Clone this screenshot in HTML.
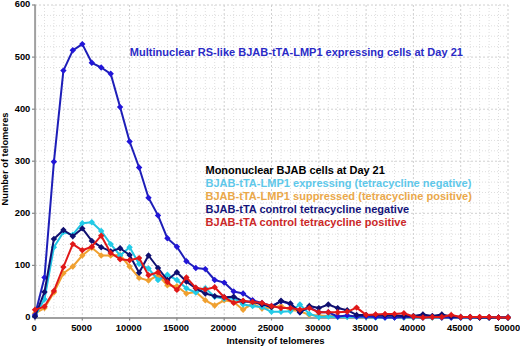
<!DOCTYPE html>
<html><head><meta charset="utf-8"><style>
html,body{margin:0;padding:0;background:#fff;}
body{width:520px;height:347px;overflow:hidden;font-family:"Liberation Sans",sans-serif;}
svg{display:block;}
</style></head><body>
<svg width="520" height="347" viewBox="0 0 520 347">
<rect width="520" height="347" fill="#fff"/>
<g stroke="#dedede" stroke-width="1" stroke-dasharray="1 2" fill="none"><line x1="35.0" y1="307.1" x2="508.0" y2="307.1"/><line x1="35.0" y1="296.7" x2="508.0" y2="296.7"/><line x1="35.0" y1="286.2" x2="508.0" y2="286.2"/><line x1="35.0" y1="275.8" x2="508.0" y2="275.8"/><line x1="35.0" y1="255.0" x2="508.0" y2="255.0"/><line x1="35.0" y1="244.6" x2="508.0" y2="244.6"/><line x1="35.0" y1="234.2" x2="508.0" y2="234.2"/><line x1="35.0" y1="223.8" x2="508.0" y2="223.8"/><line x1="35.0" y1="202.9" x2="508.0" y2="202.9"/><line x1="35.0" y1="192.5" x2="508.0" y2="192.5"/><line x1="35.0" y1="182.1" x2="508.0" y2="182.1"/><line x1="35.0" y1="171.7" x2="508.0" y2="171.7"/><line x1="35.0" y1="150.8" x2="508.0" y2="150.8"/><line x1="35.0" y1="140.4" x2="508.0" y2="140.4"/><line x1="35.0" y1="130.0" x2="508.0" y2="130.0"/><line x1="35.0" y1="119.6" x2="508.0" y2="119.6"/><line x1="35.0" y1="98.8" x2="508.0" y2="98.8"/><line x1="35.0" y1="88.3" x2="508.0" y2="88.3"/><line x1="35.0" y1="77.9" x2="508.0" y2="77.9"/><line x1="35.0" y1="67.5" x2="508.0" y2="67.5"/><line x1="35.0" y1="46.7" x2="508.0" y2="46.7"/><line x1="35.0" y1="36.2" x2="508.0" y2="36.2"/><line x1="35.0" y1="25.8" x2="508.0" y2="25.8"/><line x1="35.0" y1="15.4" x2="508.0" y2="15.4"/><line x1="44.5" y1="5.0" x2="44.5" y2="317.5"/><line x1="53.9" y1="5.0" x2="53.9" y2="317.5"/><line x1="63.4" y1="5.0" x2="63.4" y2="317.5"/><line x1="72.8" y1="5.0" x2="72.8" y2="317.5"/><line x1="91.8" y1="5.0" x2="91.8" y2="317.5"/><line x1="101.2" y1="5.0" x2="101.2" y2="317.5"/><line x1="110.7" y1="5.0" x2="110.7" y2="317.5"/><line x1="120.1" y1="5.0" x2="120.1" y2="317.5"/><line x1="139.1" y1="5.0" x2="139.1" y2="317.5"/><line x1="148.5" y1="5.0" x2="148.5" y2="317.5"/><line x1="158.0" y1="5.0" x2="158.0" y2="317.5"/><line x1="167.4" y1="5.0" x2="167.4" y2="317.5"/><line x1="186.4" y1="5.0" x2="186.4" y2="317.5"/><line x1="195.8" y1="5.0" x2="195.8" y2="317.5"/><line x1="205.3" y1="5.0" x2="205.3" y2="317.5"/><line x1="214.7" y1="5.0" x2="214.7" y2="317.5"/><line x1="233.7" y1="5.0" x2="233.7" y2="317.5"/><line x1="243.1" y1="5.0" x2="243.1" y2="317.5"/><line x1="252.6" y1="5.0" x2="252.6" y2="317.5"/><line x1="262.0" y1="5.0" x2="262.0" y2="317.5"/><line x1="281.0" y1="5.0" x2="281.0" y2="317.5"/><line x1="290.4" y1="5.0" x2="290.4" y2="317.5"/><line x1="299.9" y1="5.0" x2="299.9" y2="317.5"/><line x1="309.3" y1="5.0" x2="309.3" y2="317.5"/><line x1="328.3" y1="5.0" x2="328.3" y2="317.5"/><line x1="337.7" y1="5.0" x2="337.7" y2="317.5"/><line x1="347.2" y1="5.0" x2="347.2" y2="317.5"/><line x1="356.6" y1="5.0" x2="356.6" y2="317.5"/><line x1="375.6" y1="5.0" x2="375.6" y2="317.5"/><line x1="385.0" y1="5.0" x2="385.0" y2="317.5"/><line x1="394.5" y1="5.0" x2="394.5" y2="317.5"/><line x1="403.9" y1="5.0" x2="403.9" y2="317.5"/><line x1="422.9" y1="5.0" x2="422.9" y2="317.5"/><line x1="432.3" y1="5.0" x2="432.3" y2="317.5"/><line x1="441.8" y1="5.0" x2="441.8" y2="317.5"/><line x1="451.2" y1="5.0" x2="451.2" y2="317.5"/><line x1="470.2" y1="5.0" x2="470.2" y2="317.5"/><line x1="479.6" y1="5.0" x2="479.6" y2="317.5"/><line x1="489.1" y1="5.0" x2="489.1" y2="317.5"/><line x1="498.5" y1="5.0" x2="498.5" y2="317.5"/></g>
<g stroke="#d0d0d0" stroke-width="1" stroke-dasharray="2 2" fill="none"><line x1="35.0" y1="265.4" x2="508.0" y2="265.4"/><line x1="35.0" y1="213.3" x2="508.0" y2="213.3"/><line x1="35.0" y1="161.2" x2="508.0" y2="161.2"/><line x1="35.0" y1="109.2" x2="508.0" y2="109.2"/><line x1="35.0" y1="57.1" x2="508.0" y2="57.1"/><line x1="35.0" y1="5.0" x2="508.0" y2="5.0"/><line x1="82.3" y1="5.0" x2="82.3" y2="317.5"/><line x1="129.6" y1="5.0" x2="129.6" y2="317.5"/><line x1="176.9" y1="5.0" x2="176.9" y2="317.5"/><line x1="224.2" y1="5.0" x2="224.2" y2="317.5"/><line x1="271.5" y1="5.0" x2="271.5" y2="317.5"/><line x1="318.8" y1="5.0" x2="318.8" y2="317.5"/><line x1="366.1" y1="5.0" x2="366.1" y2="317.5"/><line x1="413.4" y1="5.0" x2="413.4" y2="317.5"/><line x1="460.7" y1="5.0" x2="460.7" y2="317.5"/><line x1="508.0" y1="5.0" x2="508.0" y2="317.5"/></g>
<line x1="35.1" y1="4.5" x2="35.1" y2="318.7" stroke="#a0a0a0" stroke-width="2"/>
<line x1="34.0" y1="318.0" x2="508.0" y2="318.0" stroke="#a0a0a0" stroke-width="1.8"/>
<g stroke="#888" stroke-width="1.2"><line x1="32.0" y1="317.5" x2="35.0" y2="317.5"/><line x1="32.0" y1="265.4" x2="35.0" y2="265.4"/><line x1="32.0" y1="213.3" x2="35.0" y2="213.3"/><line x1="32.0" y1="161.2" x2="35.0" y2="161.2"/><line x1="32.0" y1="109.2" x2="35.0" y2="109.2"/><line x1="32.0" y1="57.1" x2="35.0" y2="57.1"/><line x1="32.0" y1="5.0" x2="35.0" y2="5.0"/><line x1="35.0" y1="317.5" x2="35.0" y2="320.5"/><line x1="82.3" y1="317.5" x2="82.3" y2="320.5"/><line x1="129.6" y1="317.5" x2="129.6" y2="320.5"/><line x1="176.9" y1="317.5" x2="176.9" y2="320.5"/><line x1="224.2" y1="317.5" x2="224.2" y2="320.5"/><line x1="271.5" y1="317.5" x2="271.5" y2="320.5"/><line x1="318.8" y1="317.5" x2="318.8" y2="320.5"/><line x1="366.1" y1="317.5" x2="366.1" y2="320.5"/><line x1="413.4" y1="317.5" x2="413.4" y2="320.5"/><line x1="460.7" y1="317.5" x2="460.7" y2="320.5"/><line x1="508.0" y1="317.5" x2="508.0" y2="320.5"/></g>
<polyline fill="none" stroke="#F0A030" stroke-width="2.0" stroke-linejoin="round" points="35.0,313.3 44.5,308.1 53.9,292.5 63.4,273.2 72.8,266.5 82.3,255.5 91.8,247.7 101.2,255.5 110.7,255.5 120.1,255.0 129.6,266.5 139.1,277.9 148.5,280.5 158.0,275.3 167.4,285.2 176.9,286.2 186.4,293.5 195.8,292.0 205.3,300.3 214.7,305.5 224.2,300.3 233.7,301.9 243.1,309.7 252.6,303.4 262.0,308.6 271.5,307.6 281.0,306.0 290.4,309.7 299.9,311.2 309.3,314.9 318.8,315.4 328.3,315.9 337.7,315.9 347.2,316.5 356.6,316.5 366.1,317.0 375.6,317.0 385.0,317.0 394.5,317.5 403.9,317.5 413.4,317.5 422.9,317.5 432.3,317.5 441.8,317.5 451.2,317.5 460.7,317.5 470.2,317.5 479.6,317.5 489.1,317.5 498.5,317.5 508.0,317.5"/>
<path fill="#F0A030" d="M31.8 313.3L35.0 310.1L38.2 313.3L35.0 316.5ZM41.3 308.1L44.5 304.9L47.7 308.1L44.5 311.3ZM50.7 292.5L53.9 289.3L57.1 292.5L53.9 295.7ZM60.2 273.2L63.4 270.0L66.6 273.2L63.4 276.4ZM69.6 266.5L72.8 263.3L76.0 266.5L72.8 269.7ZM79.1 255.5L82.3 252.3L85.5 255.5L82.3 258.7ZM88.6 247.7L91.8 244.5L95.0 247.7L91.8 250.9ZM98.0 255.5L101.2 252.3L104.4 255.5L101.2 258.7ZM107.5 255.5L110.7 252.3L113.9 255.5L110.7 258.7ZM116.9 255.0L120.1 251.8L123.3 255.0L120.1 258.2ZM126.4 266.5L129.6 263.3L132.8 266.5L129.6 269.7ZM135.9 277.9L139.1 274.7L142.3 277.9L139.1 281.1ZM145.3 280.5L148.5 277.3L151.7 280.5L148.5 283.7ZM154.8 275.3L158.0 272.1L161.2 275.3L158.0 278.5ZM164.2 285.2L167.4 282.0L170.6 285.2L167.4 288.4ZM173.7 286.2L176.9 283.1L180.1 286.2L176.9 289.4ZM183.2 293.5L186.4 290.3L189.6 293.5L186.4 296.7ZM192.6 292.0L195.8 288.8L199.0 292.0L195.8 295.2ZM202.1 300.3L205.3 297.1L208.5 300.3L205.3 303.5ZM211.5 305.5L214.7 302.3L217.9 305.5L214.7 308.7ZM221.0 300.3L224.2 297.1L227.4 300.3L224.2 303.5ZM230.5 301.9L233.7 298.7L236.9 301.9L233.7 305.1ZM239.9 309.7L243.1 306.5L246.3 309.7L243.1 312.9ZM249.4 303.4L252.6 300.2L255.8 303.4L252.6 306.6ZM258.8 308.6L262.0 305.4L265.2 308.6L262.0 311.8ZM268.3 307.6L271.5 304.4L274.7 307.6L271.5 310.8ZM277.8 306.0L281.0 302.8L284.2 306.0L281.0 309.2ZM287.2 309.7L290.4 306.5L293.6 309.7L290.4 312.9ZM296.7 311.2L299.9 308.1L303.1 311.2L299.9 314.4ZM306.1 314.9L309.3 311.7L312.5 314.9L309.3 318.1ZM315.6 315.4L318.8 312.2L322.0 315.4L318.8 318.6ZM325.1 315.9L328.3 312.7L331.5 315.9L328.3 319.1ZM334.5 315.9L337.7 312.7L340.9 315.9L337.7 319.1ZM344.0 316.5L347.2 313.3L350.4 316.5L347.2 319.7ZM353.4 316.5L356.6 313.3L359.8 316.5L356.6 319.7ZM362.9 317.0L366.1 313.8L369.3 317.0L366.1 320.2ZM372.4 317.0L375.6 313.8L378.8 317.0L375.6 320.2ZM381.8 317.0L385.0 313.8L388.2 317.0L385.0 320.2ZM391.3 317.5L394.5 314.3L397.7 317.5L394.5 320.7ZM400.7 317.5L403.9 314.3L407.1 317.5L403.9 320.7ZM410.2 317.5L413.4 314.3L416.6 317.5L413.4 320.7ZM419.7 317.5L422.9 314.3L426.1 317.5L422.9 320.7ZM429.1 317.5L432.3 314.3L435.5 317.5L432.3 320.7ZM438.6 317.5L441.8 314.3L445.0 317.5L441.8 320.7ZM448.0 317.5L451.2 314.3L454.4 317.5L451.2 320.7ZM457.5 317.5L460.7 314.3L463.9 317.5L460.7 320.7ZM467.0 317.5L470.2 314.3L473.4 317.5L470.2 320.7ZM476.4 317.5L479.6 314.3L482.8 317.5L479.6 320.7ZM485.9 317.5L489.1 314.3L492.3 317.5L489.1 320.7ZM495.3 317.5L498.5 314.3L501.7 317.5L498.5 320.7ZM504.8 317.5L508.0 314.3L511.2 317.5L508.0 320.7Z"/>
<polyline fill="none" stroke="#22C4E2" stroke-width="2.0" stroke-linejoin="round" points="35.0,315.9 44.5,299.3 53.9,247.2 63.4,232.1 72.8,234.7 82.3,223.2 91.8,222.2 101.2,231.0 110.7,244.1 120.1,255.5 129.6,247.2 139.1,263.9 148.5,268.5 158.0,280.0 167.4,274.8 176.9,280.0 186.4,288.3 195.8,292.5 205.3,288.3 214.7,296.7 224.2,298.8 233.7,298.2 243.1,304.5 252.6,306.0 262.0,307.1 271.5,311.8 281.0,311.8 290.4,311.2 299.9,304.5 309.3,313.9 318.8,317.0 328.3,316.5 337.7,317.0 347.2,317.0 356.6,317.0 366.1,317.0 375.6,317.5 385.0,317.5 394.5,317.5 403.9,317.5 413.4,317.5 422.9,317.5 432.3,317.5 441.8,317.5 451.2,317.5 460.7,317.5 470.2,317.5 479.6,317.5 489.1,317.5 498.5,317.5 508.0,317.5"/>
<path fill="#22CCE8" d="M31.8 315.9L35.0 312.7L38.2 315.9L35.0 319.1ZM41.3 299.3L44.5 296.1L47.7 299.3L44.5 302.5ZM50.7 247.2L53.9 244.0L57.1 247.2L53.9 250.4ZM60.2 232.1L63.4 228.9L66.6 232.1L63.4 235.3ZM69.6 234.7L72.8 231.5L76.0 234.7L72.8 237.9ZM79.1 223.2L82.3 220.0L85.5 223.2L82.3 226.4ZM88.6 222.2L91.8 219.0L95.0 222.2L91.8 225.4ZM98.0 231.0L101.2 227.8L104.4 231.0L101.2 234.2ZM107.5 244.1L110.7 240.9L113.9 244.1L110.7 247.3ZM116.9 255.5L120.1 252.3L123.3 255.5L120.1 258.7ZM126.4 247.2L129.6 244.0L132.8 247.2L129.6 250.4ZM135.9 263.9L139.1 260.7L142.3 263.9L139.1 267.1ZM145.3 268.5L148.5 265.3L151.7 268.5L148.5 271.7ZM154.8 280.0L158.0 276.8L161.2 280.0L158.0 283.2ZM164.2 274.8L167.4 271.6L170.6 274.8L167.4 278.0ZM173.7 280.0L176.9 276.8L180.1 280.0L176.9 283.2ZM183.2 288.3L186.4 285.1L189.6 288.3L186.4 291.5ZM192.6 292.5L195.8 289.3L199.0 292.5L195.8 295.7ZM202.1 288.3L205.3 285.1L208.5 288.3L205.3 291.5ZM211.5 296.7L214.7 293.5L217.9 296.7L214.7 299.9ZM221.0 298.8L224.2 295.6L227.4 298.8L224.2 301.9ZM230.5 298.2L233.7 295.0L236.9 298.2L233.7 301.4ZM239.9 304.5L243.1 301.3L246.3 304.5L243.1 307.7ZM249.4 306.0L252.6 302.8L255.8 306.0L252.6 309.2ZM258.8 307.1L262.0 303.9L265.2 307.1L262.0 310.3ZM268.3 311.8L271.5 308.6L274.7 311.8L271.5 315.0ZM277.8 311.8L281.0 308.6L284.2 311.8L281.0 315.0ZM287.2 311.2L290.4 308.1L293.6 311.2L290.4 314.4ZM296.7 304.5L299.9 301.3L303.1 304.5L299.9 307.7ZM306.1 313.9L309.3 310.7L312.5 313.9L309.3 317.1ZM315.6 317.0L318.8 313.8L322.0 317.0L318.8 320.2ZM325.1 316.5L328.3 313.3L331.5 316.5L328.3 319.7ZM334.5 317.0L337.7 313.8L340.9 317.0L337.7 320.2ZM344.0 317.0L347.2 313.8L350.4 317.0L347.2 320.2ZM353.4 317.0L356.6 313.8L359.8 317.0L356.6 320.2ZM362.9 317.0L366.1 313.8L369.3 317.0L366.1 320.2ZM372.4 317.5L375.6 314.3L378.8 317.5L375.6 320.7ZM381.8 317.5L385.0 314.3L388.2 317.5L385.0 320.7ZM391.3 317.5L394.5 314.3L397.7 317.5L394.5 320.7ZM400.7 317.5L403.9 314.3L407.1 317.5L403.9 320.7ZM410.2 317.5L413.4 314.3L416.6 317.5L413.4 320.7ZM419.7 317.5L422.9 314.3L426.1 317.5L422.9 320.7ZM429.1 317.5L432.3 314.3L435.5 317.5L432.3 320.7ZM438.6 317.5L441.8 314.3L445.0 317.5L441.8 320.7ZM448.0 317.5L451.2 314.3L454.4 317.5L451.2 320.7ZM457.5 317.5L460.7 314.3L463.9 317.5L460.7 320.7ZM467.0 317.5L470.2 314.3L473.4 317.5L470.2 320.7ZM476.4 317.5L479.6 314.3L482.8 317.5L479.6 320.7ZM485.9 317.5L489.1 314.3L492.3 317.5L489.1 320.7ZM495.3 317.5L498.5 314.3L501.7 317.5L498.5 320.7ZM504.8 317.5L508.0 314.3L511.2 317.5L508.0 320.7Z"/>
<polyline fill="none" stroke="#1e1eb8" stroke-width="2.0" stroke-linejoin="round" points="35.0,314.9 44.5,277.4 53.9,161.8 63.4,70.6 72.8,50.3 82.3,44.1 91.8,62.8 101.2,67.5 110.7,73.8 120.1,107.1 129.6,141.5 139.1,167.5 148.5,197.7 158.0,215.4 167.4,238.3 176.9,246.7 186.4,261.2 195.8,268.0 205.3,269.1 214.7,280.0 224.2,282.6 233.7,291.5 243.1,293.5 252.6,300.3 262.0,302.9 271.5,306.0 281.0,301.4 290.4,304.0 299.9,312.3 309.3,307.1 318.8,312.3 328.3,312.3 337.7,316.5 347.2,315.4 356.6,316.5 366.1,316.5 375.6,317.0 385.0,317.5 394.5,317.5 403.9,317.0 413.4,317.0 422.9,317.5 432.3,317.0 441.8,317.5 451.2,317.5 460.7,317.5 470.2,317.5 479.6,317.5 489.1,317.5 498.5,317.5 508.0,317.5"/>
<path fill="#2216d8" d="M31.8 314.9L35.0 311.7L38.2 314.9L35.0 318.1ZM41.3 277.4L44.5 274.2L47.7 277.4L44.5 280.6ZM50.7 161.8L53.9 158.6L57.1 161.8L53.9 165.0ZM60.2 70.6L63.4 67.4L66.6 70.6L63.4 73.8ZM69.6 50.3L72.8 47.1L76.0 50.3L72.8 53.5ZM79.1 44.1L82.3 40.9L85.5 44.1L82.3 47.3ZM88.6 62.8L91.8 59.6L95.0 62.8L91.8 66.0ZM98.0 67.5L101.2 64.3L104.4 67.5L101.2 70.7ZM107.5 73.8L110.7 70.5L113.9 73.8L110.7 77.0ZM116.9 107.1L120.1 103.9L123.3 107.1L120.1 110.3ZM126.4 141.5L129.6 138.3L132.8 141.5L129.6 144.7ZM135.9 167.5L139.1 164.3L142.3 167.5L139.1 170.7ZM145.3 197.7L148.5 194.5L151.7 197.7L148.5 200.9ZM154.8 215.4L158.0 212.2L161.2 215.4L158.0 218.6ZM164.2 238.3L167.4 235.1L170.6 238.3L167.4 241.5ZM173.7 246.7L176.9 243.5L180.1 246.7L176.9 249.9ZM183.2 261.2L186.4 258.1L189.6 261.2L186.4 264.4ZM192.6 268.0L195.8 264.8L199.0 268.0L195.8 271.2ZM202.1 269.1L205.3 265.9L208.5 269.1L205.3 272.3ZM211.5 280.0L214.7 276.8L217.9 280.0L214.7 283.2ZM221.0 282.6L224.2 279.4L227.4 282.6L224.2 285.8ZM230.5 291.5L233.7 288.3L236.9 291.5L233.7 294.7ZM239.9 293.5L243.1 290.3L246.3 293.5L243.1 296.7ZM249.4 300.3L252.6 297.1L255.8 300.3L252.6 303.5ZM258.8 302.9L262.0 299.7L265.2 302.9L262.0 306.1ZM268.3 306.0L271.5 302.8L274.7 306.0L271.5 309.2ZM277.8 301.4L281.0 298.2L284.2 301.4L281.0 304.6ZM287.2 304.0L290.4 300.8L293.6 304.0L290.4 307.2ZM296.7 312.3L299.9 309.1L303.1 312.3L299.9 315.5ZM306.1 307.1L309.3 303.9L312.5 307.1L309.3 310.3ZM315.6 312.3L318.8 309.1L322.0 312.3L318.8 315.5ZM325.1 312.3L328.3 309.1L331.5 312.3L328.3 315.5ZM334.5 316.5L337.7 313.3L340.9 316.5L337.7 319.7ZM344.0 315.4L347.2 312.2L350.4 315.4L347.2 318.6ZM353.4 316.5L356.6 313.3L359.8 316.5L356.6 319.7ZM362.9 316.5L366.1 313.3L369.3 316.5L366.1 319.7ZM372.4 317.0L375.6 313.8L378.8 317.0L375.6 320.2ZM381.8 317.5L385.0 314.3L388.2 317.5L385.0 320.7ZM391.3 317.5L394.5 314.3L397.7 317.5L394.5 320.7ZM400.7 317.0L403.9 313.8L407.1 317.0L403.9 320.2ZM410.2 317.0L413.4 313.8L416.6 317.0L413.4 320.2ZM419.7 317.5L422.9 314.3L426.1 317.5L422.9 320.7ZM429.1 317.0L432.3 313.8L435.5 317.0L432.3 320.2ZM438.6 317.5L441.8 314.3L445.0 317.5L441.8 320.7ZM448.0 317.5L451.2 314.3L454.4 317.5L451.2 320.7ZM457.5 317.5L460.7 314.3L463.9 317.5L460.7 320.7ZM467.0 317.5L470.2 314.3L473.4 317.5L470.2 320.7ZM476.4 317.5L479.6 314.3L482.8 317.5L479.6 320.7ZM485.9 317.5L489.1 314.3L492.3 317.5L489.1 320.7ZM495.3 317.5L498.5 314.3L501.7 317.5L498.5 320.7ZM504.8 317.5L508.0 314.3L511.2 317.5L508.0 320.7Z"/>
<polyline fill="none" stroke="#101070" stroke-width="2.0" stroke-linejoin="round" points="35.0,316.5 44.5,292.0 53.9,238.9 63.4,230.0 72.8,236.2 82.3,228.4 91.8,240.9 101.2,247.2 110.7,251.4 120.1,248.2 129.6,255.0 139.1,272.7 148.5,255.5 158.0,268.0 167.4,280.0 176.9,272.2 186.4,281.6 195.8,288.3 205.3,293.5 214.7,296.1 224.2,297.2 233.7,296.7 243.1,301.4 252.6,301.9 262.0,304.5 271.5,307.1 281.0,300.8 290.4,303.4 299.9,312.3 309.3,306.0 318.8,308.1 328.3,304.5 337.7,308.1 347.2,310.2 356.6,314.9 366.1,314.9 375.6,314.9 385.0,315.4 394.5,315.4 403.9,315.9 413.4,315.9 422.9,314.4 432.3,315.9 441.8,314.4 451.2,316.5 460.7,317.0 470.2,317.0 479.6,317.5 489.1,317.5 498.5,317.5 508.0,317.5"/>
<path fill="#101070" d="M31.8 316.5L35.0 313.3L38.2 316.5L35.0 319.7ZM41.3 292.0L44.5 288.8L47.7 292.0L44.5 295.2ZM50.7 238.9L53.9 235.7L57.1 238.9L53.9 242.1ZM60.2 230.0L63.4 226.8L66.6 230.0L63.4 233.2ZM69.6 236.2L72.8 233.1L76.0 236.2L72.8 239.4ZM79.1 228.4L82.3 225.2L85.5 228.4L82.3 231.6ZM88.6 240.9L91.8 237.7L95.0 240.9L91.8 244.1ZM98.0 247.2L101.2 244.0L104.4 247.2L101.2 250.4ZM107.5 251.4L110.7 248.2L113.9 251.4L110.7 254.6ZM116.9 248.2L120.1 245.0L123.3 248.2L120.1 251.4ZM126.4 255.0L129.6 251.8L132.8 255.0L129.6 258.2ZM135.9 272.7L139.1 269.5L142.3 272.7L139.1 275.9ZM145.3 255.5L148.5 252.3L151.7 255.5L148.5 258.7ZM154.8 268.0L158.0 264.8L161.2 268.0L158.0 271.2ZM164.2 280.0L167.4 276.8L170.6 280.0L167.4 283.2ZM173.7 272.2L176.9 269.0L180.1 272.2L176.9 275.4ZM183.2 281.6L186.4 278.4L189.6 281.6L186.4 284.8ZM192.6 288.3L195.8 285.1L199.0 288.3L195.8 291.5ZM202.1 293.5L205.3 290.3L208.5 293.5L205.3 296.7ZM211.5 296.1L214.7 292.9L217.9 296.1L214.7 299.3ZM221.0 297.2L224.2 294.0L227.4 297.2L224.2 300.4ZM230.5 296.7L233.7 293.5L236.9 296.7L233.7 299.9ZM239.9 301.4L243.1 298.2L246.3 301.4L243.1 304.6ZM249.4 301.9L252.6 298.7L255.8 301.9L252.6 305.1ZM258.8 304.5L262.0 301.3L265.2 304.5L262.0 307.7ZM268.3 307.1L271.5 303.9L274.7 307.1L271.5 310.3ZM277.8 300.8L281.0 297.6L284.2 300.8L281.0 304.0ZM287.2 303.4L290.4 300.2L293.6 303.4L290.4 306.6ZM296.7 312.3L299.9 309.1L303.1 312.3L299.9 315.5ZM306.1 306.0L309.3 302.8L312.5 306.0L309.3 309.2ZM315.6 308.1L318.8 304.9L322.0 308.1L318.8 311.3ZM325.1 304.5L328.3 301.3L331.5 304.5L328.3 307.7ZM334.5 308.1L337.7 304.9L340.9 308.1L337.7 311.3ZM344.0 310.2L347.2 307.0L350.4 310.2L347.2 313.4ZM353.4 314.9L356.6 311.7L359.8 314.9L356.6 318.1ZM362.9 314.9L366.1 311.7L369.3 314.9L366.1 318.1ZM372.4 314.9L375.6 311.7L378.8 314.9L375.6 318.1ZM381.8 315.4L385.0 312.2L388.2 315.4L385.0 318.6ZM391.3 315.4L394.5 312.2L397.7 315.4L394.5 318.6ZM400.7 315.9L403.9 312.7L407.1 315.9L403.9 319.1ZM410.2 315.9L413.4 312.7L416.6 315.9L413.4 319.1ZM419.7 314.4L422.9 311.2L426.1 314.4L422.9 317.6ZM429.1 315.9L432.3 312.7L435.5 315.9L432.3 319.1ZM438.6 314.4L441.8 311.2L445.0 314.4L441.8 317.6ZM448.0 316.5L451.2 313.3L454.4 316.5L451.2 319.7ZM457.5 317.0L460.7 313.8L463.9 317.0L460.7 320.2ZM467.0 317.0L470.2 313.8L473.4 317.0L470.2 320.2ZM476.4 317.5L479.6 314.3L482.8 317.5L479.6 320.7ZM485.9 317.5L489.1 314.3L492.3 317.5L489.1 320.7ZM495.3 317.5L498.5 314.3L501.7 317.5L498.5 320.7ZM504.8 317.5L508.0 314.3L511.2 317.5L508.0 320.7Z"/>
<polyline fill="none" stroke="#E01818" stroke-width="2.0" stroke-linejoin="round" points="35.0,309.7 44.5,306.6 53.9,290.9 63.4,267.0 72.8,244.1 82.3,250.3 91.8,246.7 101.2,235.7 110.7,252.9 120.1,259.2 129.6,260.2 139.1,258.1 148.5,275.3 158.0,272.2 167.4,282.1 176.9,289.9 186.4,277.4 195.8,287.8 205.3,289.4 214.7,287.3 224.2,297.2 233.7,302.9 243.1,300.8 252.6,301.9 262.0,302.9 271.5,306.0 281.0,308.1 290.4,308.1 299.9,309.7 309.3,308.1 318.8,312.3 328.3,312.3 337.7,312.3 347.2,311.8 356.6,307.6 366.1,314.9 375.6,314.4 385.0,313.9 394.5,313.9 403.9,313.3 413.4,316.5 422.9,317.5 432.3,317.0 441.8,317.0 451.2,314.9 460.7,317.0 470.2,317.0 479.6,317.0 489.1,317.0 498.5,317.5 508.0,317.5"/>
<path fill="#E01818" d="M31.8 309.7L35.0 306.5L38.2 309.7L35.0 312.9ZM41.3 306.6L44.5 303.4L47.7 306.6L44.5 309.8ZM50.7 290.9L53.9 287.7L57.1 290.9L53.9 294.1ZM60.2 267.0L63.4 263.8L66.6 267.0L63.4 270.2ZM69.6 244.1L72.8 240.9L76.0 244.1L72.8 247.3ZM79.1 250.3L82.3 247.1L85.5 250.3L82.3 253.5ZM88.6 246.7L91.8 243.5L95.0 246.7L91.8 249.9ZM98.0 235.7L101.2 232.5L104.4 235.7L101.2 238.9ZM107.5 252.9L110.7 249.7L113.9 252.9L110.7 256.1ZM116.9 259.2L120.1 256.0L123.3 259.2L120.1 262.4ZM126.4 260.2L129.6 257.0L132.8 260.2L129.6 263.4ZM135.9 258.1L139.1 254.9L142.3 258.1L139.1 261.3ZM145.3 275.3L148.5 272.1L151.7 275.3L148.5 278.5ZM154.8 272.2L158.0 269.0L161.2 272.2L158.0 275.4ZM164.2 282.1L167.4 278.9L170.6 282.1L167.4 285.3ZM173.7 289.9L176.9 286.7L180.1 289.9L176.9 293.1ZM183.2 277.4L186.4 274.2L189.6 277.4L186.4 280.6ZM192.6 287.8L195.8 284.6L199.0 287.8L195.8 291.0ZM202.1 289.4L205.3 286.2L208.5 289.4L205.3 292.6ZM211.5 287.3L214.7 284.1L217.9 287.3L214.7 290.5ZM221.0 297.2L224.2 294.0L227.4 297.2L224.2 300.4ZM230.5 302.9L233.7 299.7L236.9 302.9L233.7 306.1ZM239.9 300.8L243.1 297.6L246.3 300.8L243.1 304.0ZM249.4 301.9L252.6 298.7L255.8 301.9L252.6 305.1ZM258.8 302.9L262.0 299.7L265.2 302.9L262.0 306.1ZM268.3 306.0L271.5 302.8L274.7 306.0L271.5 309.2ZM277.8 308.1L281.0 304.9L284.2 308.1L281.0 311.3ZM287.2 308.1L290.4 304.9L293.6 308.1L290.4 311.3ZM296.7 309.7L299.9 306.5L303.1 309.7L299.9 312.9ZM306.1 308.1L309.3 304.9L312.5 308.1L309.3 311.3ZM315.6 312.3L318.8 309.1L322.0 312.3L318.8 315.5ZM325.1 312.3L328.3 309.1L331.5 312.3L328.3 315.5ZM334.5 312.3L337.7 309.1L340.9 312.3L337.7 315.5ZM344.0 311.8L347.2 308.6L350.4 311.8L347.2 315.0ZM353.4 307.6L356.6 304.4L359.8 307.6L356.6 310.8ZM362.9 314.9L366.1 311.7L369.3 314.9L366.1 318.1ZM372.4 314.4L375.6 311.2L378.8 314.4L375.6 317.6ZM381.8 313.9L385.0 310.7L388.2 313.9L385.0 317.1ZM391.3 313.9L394.5 310.7L397.7 313.9L394.5 317.1ZM400.7 313.3L403.9 310.1L407.1 313.3L403.9 316.5ZM410.2 316.5L413.4 313.3L416.6 316.5L413.4 319.7ZM419.7 317.5L422.9 314.3L426.1 317.5L422.9 320.7ZM429.1 317.0L432.3 313.8L435.5 317.0L432.3 320.2ZM438.6 317.0L441.8 313.8L445.0 317.0L441.8 320.2ZM448.0 314.9L451.2 311.7L454.4 314.9L451.2 318.1ZM457.5 317.0L460.7 313.8L463.9 317.0L460.7 320.2ZM467.0 317.0L470.2 313.8L473.4 317.0L470.2 320.2ZM476.4 317.0L479.6 313.8L482.8 317.0L479.6 320.2ZM485.9 317.0L489.1 313.8L492.3 317.0L489.1 320.2ZM495.3 317.5L498.5 314.3L501.7 317.5L498.5 320.7ZM504.8 317.5L508.0 314.3L511.2 317.5L508.0 320.7Z"/>
<g font-family="Liberation Sans, sans-serif" font-weight="bold" font-size="9.3" fill="#000"><text x="30.3" y="319.9" text-anchor="end">0</text><text x="30.3" y="267.8" text-anchor="end">100</text><text x="30.3" y="215.7" text-anchor="end">200</text><text x="30.3" y="163.7" text-anchor="end">300</text><text x="30.3" y="111.6" text-anchor="end">400</text><text x="30.3" y="59.5" text-anchor="end">500</text><text x="30.3" y="7.4" text-anchor="end">600</text><text x="34.2" y="331.2" text-anchor="middle">0</text><text x="81.5" y="331.2" text-anchor="middle">5000</text><text x="128.8" y="331.2" text-anchor="middle">10000</text><text x="176.1" y="331.2" text-anchor="middle">15000</text><text x="223.4" y="331.2" text-anchor="middle">20000</text><text x="270.7" y="331.2" text-anchor="middle">25000</text><text x="318.0" y="331.2" text-anchor="middle">30000</text><text x="365.3" y="331.2" text-anchor="middle">35000</text><text x="412.6" y="331.2" text-anchor="middle">40000</text><text x="459.9" y="331.2" text-anchor="middle">45000</text><text x="507.2" y="331.2" text-anchor="middle">50000</text></g>
<text x="275.5" y="343.5" text-anchor="middle" font-family="Liberation Sans, sans-serif" font-weight="bold" font-size="9.5" fill="#000">Intensity of telomeres</text>
<text transform="translate(8.1,159) rotate(-90)" text-anchor="middle" font-family="Liberation Sans, sans-serif" font-weight="bold" font-size="9.3" fill="#000">Number of telomeres</text>
<text x="129.8" y="55.6" textLength="333.1" lengthAdjust="spacing" font-family="Liberation Sans, sans-serif" font-weight="bold" font-size="11" fill="#2a2ac6">Multinuclear RS-like BJAB-tTA-LMP1 expressing cells at Day 21</text>
<text x="205.5" y="173.6" textLength="179.3" lengthAdjust="spacing" font-family="Liberation Sans, sans-serif" font-weight="bold" font-size="11" fill="#000000">Mononuclear BJAB cells at Day 21</text>
<text x="205.5" y="187.2" textLength="265.8" lengthAdjust="spacing" font-family="Liberation Sans, sans-serif" font-weight="bold" font-size="11" fill="#5ec8ea">BJAB-tTA-LMP1 expressing (tetracycline negative)</text>
<text x="205.5" y="200.4" textLength="266.4" lengthAdjust="spacing" font-family="Liberation Sans, sans-serif" font-weight="bold" font-size="11" fill="#eaa84a">BJAB-tTA-LMP1 suppressed (tetracycline positive)</text>
<text x="205.5" y="212.8" textLength="203.7" lengthAdjust="spacing" font-family="Liberation Sans, sans-serif" font-weight="bold" font-size="11" fill="#14147a">BJAB-tTA control tetracycline negative</text>
<text x="205.5" y="225.5" textLength="201.1" lengthAdjust="spacing" font-family="Liberation Sans, sans-serif" font-weight="bold" font-size="11" fill="#cc2828">BJAB-tTA control tetracycline positive</text>
</svg>
</body></html>
